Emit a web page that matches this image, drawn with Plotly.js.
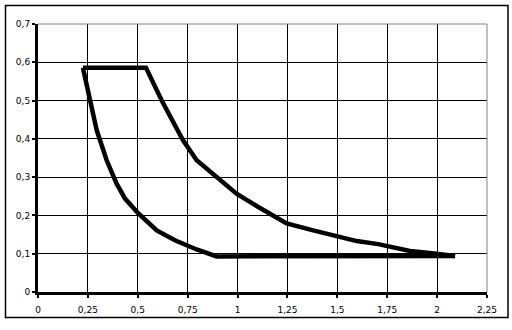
<!DOCTYPE html>
<html>
<head>
<meta charset="utf-8">
<script src="https://cdn.plot.ly/plotly-3.0.1.min.js"></script>
<style>html,body{margin:0;padding:0;background:#fff;}#chart{width:512px;height:330px;}</style>
</head>
<body>
<div id="chart"></div>
<script>
// Lower (left) curve
const curveAx = [0.225, 0.294, 0.344, 0.394, 0.436, 0.503, 0.595, 0.686, 0.795, 0.895, 2.09];
const curveAy = [0.586, 0.423, 0.344, 0.283, 0.244, 0.205, 0.161, 0.135, 0.111, 0.093, 0.094];
// Upper (right) curve
const curveBx = [0.225, 0.541, 0.62, 0.726, 0.795, 0.9, 0.995, 1.104, 1.179, 1.246, 1.379, 1.496, 1.597, 1.705, 1.764, 1.864, 1.997, 2.09];
const curveBy = [0.586, 0.586, 0.5, 0.397, 0.344, 0.298, 0.257, 0.222, 0.2, 0.179, 0.161, 0.146, 0.133, 0.125, 0.118, 0.107, 0.1, 0.094];
const xTicks = [0, 0.25, 0.5, 0.75, 1, 1.25, 1.5, 1.75, 2, 2.25];
const yTicks = [0, 0.1, 0.2, 0.3, 0.4, 0.5, 0.6, 0.7];

const traces = [
  {x: curveAx, y: curveAy, mode: 'lines', line: {color: '#000', width: 4.5}, hoverinfo: 'skip'},
  {x: curveBx, y: curveBy, mode: 'lines', line: {color: '#000', width: 4.5}, hoverinfo: 'skip'}
];

const L = 38, R = 487, T = 24, B = 292, W = 512, H = 330;
const pw = R - L, ph = B - T;
const px = v => (v - L) / pw;
const py = v => (B - v) / ph;

const layout = {
  width: W, height: H,
  margin: {l: L, r: W - R, t: T, b: H - B, pad: 0},
  paper_bgcolor: '#fff', plot_bgcolor: '#fff',
  showlegend: false,
  separators: ', ',
  font: {family: 'DejaVu Sans', size: 9, color: '#000'},
  xaxis: {
    range: [0, 2.25], tickmode: 'array', tickvals: xTicks,
    ticktext: xTicks.map(v => String(v).replace('.', ',')),
    showgrid: true, gridcolor: '#000', gridwidth: 1,
    showline: true, linecolor: '#000', linewidth: 3,
    ticks: 'outside', ticklen: 3, tickwidth: 2, tickcolor: '#000',
    zeroline: false, fixedrange: true, ticklabelstandoff: 4
  },
  yaxis: {
    range: [0, 0.7], tickmode: 'array', tickvals: yTicks,
    ticktext: yTicks.map(v => String(v).replace('.', ',')),
    showgrid: true, gridcolor: '#000', gridwidth: 1,
    showline: true, linecolor: '#000', linewidth: 3,
    ticks: 'outside', ticklen: 3, tickwidth: 2, tickcolor: '#000',
    zeroline: false, fixedrange: true
  },
  shapes: [
    {type: 'line', xref: 'paper', yref: 'paper', x0: 0, x1: 1, y0: 1, y1: 1, line: {color: '#808080', width: 1}, layer: 'above'},
    {type: 'line', xref: 'paper', yref: 'paper', x0: 1, x1: 1, y0: 0, y1: 1, line: {color: '#808080', width: 1}, layer: 'above'},
    {type: 'rect', xref: 'paper', yref: 'paper', x0: px(5.5), x1: px(508), y0: py(317.5), y1: py(5.5), line: {color: '#000', width: 1.5}, layer: 'above'}
  ]
};

Plotly.newPlot('chart', traces, layout, {staticPlot: true, displayModeBar: false});
</script>
</body>
</html>
